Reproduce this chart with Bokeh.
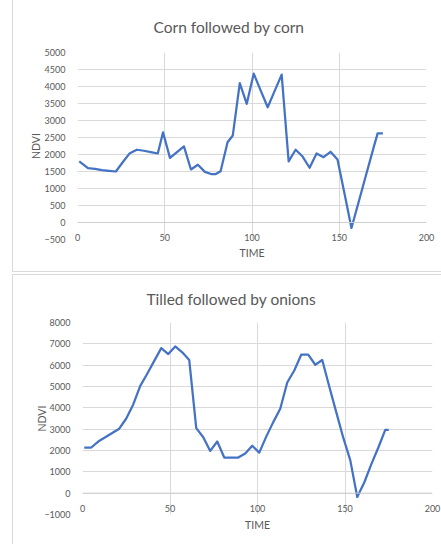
from bokeh.plotting import figure
from bokeh.models import FixedTicker, Span, Range1d, Spacer, Title
from bokeh.layouts import column, row
from bokeh.embed import file_html
from bokeh.resources import INLINE

# ---- data ----
title_corn = "Corn followed by corn"
time_corn = [1, 6, 10, 14, 18, 22, 26, 30, 34, 38, 42, 46, 49, 53, 57, 61, 65, 69, 73, 77, 79, 82,
             86, 89, 93, 97, 101, 105, 109, 113, 117, 121, 125, 129, 133, 137, 141, 145, 149,
             153, 157, 161, 165, 170, 172, 175]
ndvi_corn = [1800, 1600, 1580, 1540, 1520, 1500, 1780, 2040, 2140, 2110, 2070, 2030, 2650, 1900,
             2070, 2240, 1560, 1700, 1490, 1420, 1420, 1510, 2360, 2560, 4100, 3490, 4380, 3880,
             3390, 3870, 4350, 1800, 2140, 1940, 1610, 2030, 1920, 2080, 1850, 850, -160, 580,
             1330, 2260, 2620, 2620]
ticks_corn_y = [-500, 0, 500, 1000, 1500, 2000, 2500, 3000, 3500, 4000, 4500, 5000]

title_onion = "Tilled followed by onions"
time_onion = [1, 5, 9, 13, 17, 21, 25, 29, 33, 37, 41, 45, 49, 53, 57, 61, 65, 69, 73, 77, 81, 85,
              89, 93, 97, 101, 105, 109, 113, 117, 121, 125, 129, 133, 137, 141, 145, 149, 153,
              157, 161, 165, 169, 173, 175]
ndvi_onion = [2140, 2140, 2420, 2620, 2820, 3020, 3500, 4160, 5030, 5600, 6200, 6800, 6520, 6880,
              6600, 6240, 3050, 2620, 1980, 2420, 1670, 1670, 1670, 1860, 2220, 1900, 2650, 3330,
              3960, 5190, 5750, 6490, 6490, 6020, 6240, 5000, 3800, 2600, 1550, -180, 500, 1350,
              2130, 2970, 2970]
ticks_onion_y = [-1000, 0, 1000, 2000, 3000, 4000, 5000, 6000, 7000, 8000]

ticks_x = [0, 50, 100, 150, 200]
x_label = "TIME"
y_label = "NDVI"

FONT = "Lato"
TXT = "#595959"
GRID = "#d9d9d9"
BLUE = "#4472C4"
W = 428


def make_chart(title, xs, ys, yticks, h, ml, mr, mt, mb, xstandoff, xlab_standoff,
               ylab_standoff, title_offset, title_standoff):
    p = figure(width=W, height=h, output_backend="svg", toolbar_location=None, title=None,
               x_range=Range1d(0, 200), y_range=Range1d(yticks[0], yticks[-1]),
               min_border_left=ml, min_border_right=mr, min_border_top=mt, min_border_bottom=mb)
    p.background_fill_color = "white"
    p.border_fill_color = "white"
    p.outline_line_color = None
    p.styles = {"outline": "1px solid #d9d9d9"}

    t = Title(text=title, align="left", offset=title_offset, standoff=title_standoff,
              vertical_align="middle", text_font=FONT, text_font_size="15.5px",
              text_font_style="normal", text_color=TXT)
    p.add_layout(t, "above")

    p.xaxis.ticker = FixedTicker(ticks=ticks_x)
    p.yaxis.ticker = FixedTicker(ticks=yticks)
    p.xgrid.ticker = FixedTicker(ticks=ticks_x)
    p.ygrid.ticker = FixedTicker(ticks=yticks)
    p.xgrid.grid_line_color = GRID
    p.ygrid.grid_line_color = GRID

    for ax in (p.xaxis[0], p.yaxis[0]):
        ax.axis_line_color = None
        ax.major_tick_line_color = None
        ax.minor_tick_line_color = None
        ax.major_label_text_font = FONT
        ax.major_label_text_font_size = "9px"
        ax.major_label_text_color = TXT
        ax.axis_label_text_font = FONT
        ax.axis_label_text_font_size = "10.5px"
        ax.axis_label_text_font_style = "normal"
        ax.axis_label_text_color = TXT

    p.xaxis.axis_label = x_label
    p.yaxis.axis_label = y_label
    p.xaxis.major_label_standoff = xstandoff
    p.xaxis.axis_label_standoff = xlab_standoff
    p.yaxis.major_label_standoff = 6
    p.yaxis.axis_label_standoff = ylab_standoff

    p.add_layout(Span(location=0, dimension="width", line_color="#cfcfcf", line_width=1))

    p.line(xs, ys, line_color=BLUE, line_width=2.25, line_join="round")
    return p


p1 = make_chart(title_corn, time_corn, ndvi_corn, ticks_corn_y, 271, 64, 15, 52, 32,
                -12, 3, 0, 76, 31)
p2 = make_chart(title_onion, time_onion, ndvi_onion, ticks_onion_y, 269, 69, 9, 47, 30,
                -16, 4, -7, 64, 27)

layout = column(row(Spacer(width=13), p1, spacing=0),
                Spacer(height=4),
                row(Spacer(width=13), p2, spacing=0),
                spacing=0)
open("out.html", "w").write(file_html(layout, INLINE))
